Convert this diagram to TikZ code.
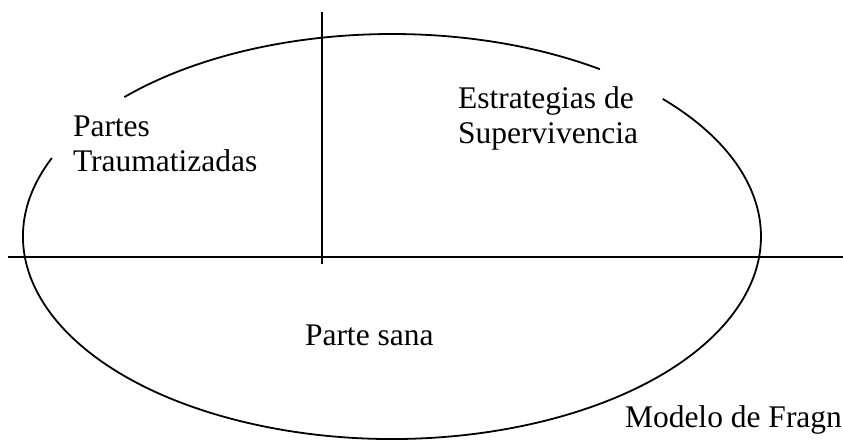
\documentclass[tikz,border=0pt]{standalone}
\usepackage{fontspec}
\setmainfont{Liberation Serif}
\usetikzlibrary{calc}
\begin{document}
\begin{tikzpicture}[x=1pt,y=1pt,
  stroke/.style={line width=1.8pt,black},
  lbl/.style={inner sep=0pt,outer sep=0pt,font=\fontsize{31.5}{35}\selectfont,align=left,anchor=base west}]
\useasboundingbox (0,0) rectangle (843,440);
% ellipse with gaps where the labels sit
\coordinate (c) at (392,203.5);
\draw[stroke] ($(c)+(55.7:369 and 202.5)$) arc[start angle=55.7,end angle=136.5,x radius=369,y radius=202.5];
\draw[stroke] ($(c)+(157.2:369 and 202.5)$) arc[start angle=157.2,end angle=402.8,x radius=369,y radius=202.5];
% axes
\coordinate (hl) at (8,183);
\coordinate (hr) at (843,183);
\coordinate (vt) at (322,428.3);
\coordinate (vb) at (322,176);
\draw[stroke] (hl) -- (hr);
\draw[stroke] (vt) -- (vb);
% labels (base anchor = baseline of the last line)
\node[lbl] (trauma) at (73,269) {Partes\\Traumatizadas};
\node[lbl] (estr) at (458,297) {Estrategias de\\Supervivencia};
\node[lbl] (sana) at (305,95) {Parte sana};
\node[lbl] (modelo) at (625,13) {Modelo de Fragn};
\end{tikzpicture}
\end{document}
